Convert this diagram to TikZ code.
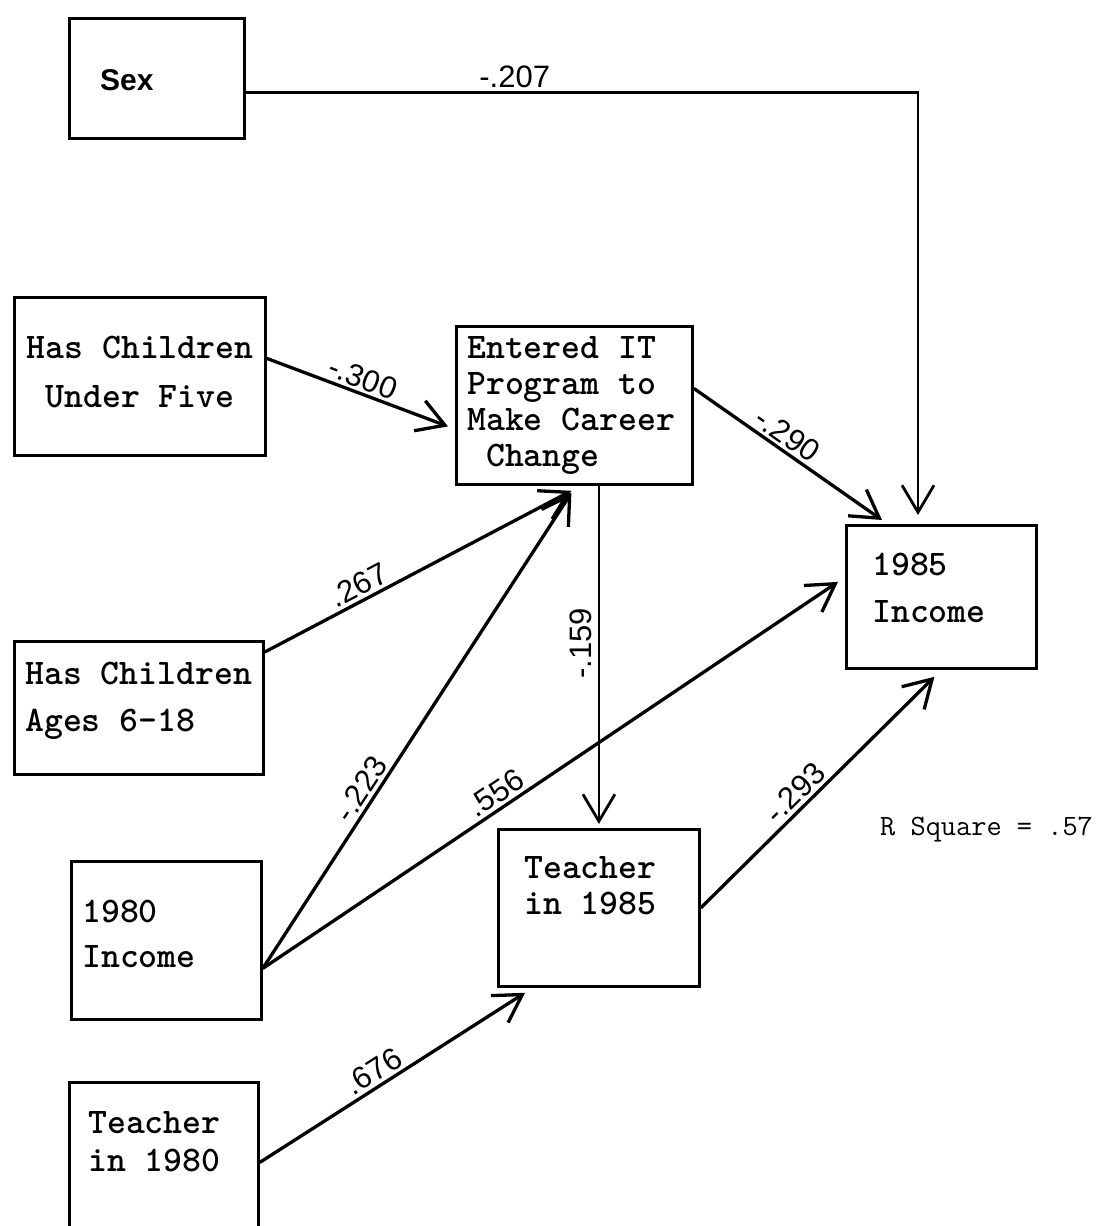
\documentclass[tikz,border=0pt]{standalone}
\usepackage{fontspec}
\newfontfamily\labfont{Liberation Sans}
\usetikzlibrary{arrows.meta}
\begin{document}
\begin{tikzpicture}[x=1pt,y=-1pt,
  box/.style={draw, line width=2.8pt, inner sep=0pt, anchor=north west},
  txt/.style={font=\ttfamily\bfseries\fontsize{36}{#1}\selectfont, align=left, inner sep=0pt, anchor=west},
  lab/.style={font=\labfont\fontsize{31}{31}\selectfont, inner sep=3pt, sloped, above},
  arr/.style={line width=3.3pt, -{Straight Barb[length=27pt,width=32pt]}}]
\useasboundingbox (0,0) rectangle (1101,1226);
\fill[white] (0,0) rectangle (1101,1226);
\clip (0,0) rectangle (1101,1226);

% boxes
\node[box, minimum width=175pt, minimum height=120pt] (sex) at (68,17) {};
\node[box, minimum width=251pt, minimum height=158pt] (under) at (13,296) {};
\node[box, minimum width=236pt, minimum height=158pt] (entered) at (455,325) {};
\node[box, minimum width=190pt, minimum height=143pt] (inc85) at (845,524) {};
\node[box, minimum width=249pt, minimum height=133pt] (ages) at (13,640) {};
\node[box, minimum width=190pt, minimum height=158pt] (inc80) at (70,860) {};
\node[box, minimum width=201pt, minimum height=157pt] (t85) at (497,828) {};
\node[box, minimum width=189pt, minimum height=160pt] (t80) at (68,1081) {};

% texts
\node[font=\labfont\bfseries\fontsize{30}{30}\selectfont, anchor=west, inner sep=0pt] (sext) at (100,80) {Sex};
\node[txt=49, align=center, anchor=center] (undert) at (140,372) {Has Children\\Under Five};
\node[txt=36] (entt) at (467,406) {Entered IT\\Program to\\Make Career\\\ Change};
\node[txt=47] (inc85t) at (872,588) {1985\\Income};
\node[txt=47] (agest) at (25,701) {Has Children\\Ages 6-18};
\node[txt=45] (inc80t) at (82,934) {1980\\Income};
\node[txt=36] (t85t) at (524,886) {Teacher\\in 1985};
\node[txt=38] (t80t) at (88,1142) {Teacher\\in 1980};
\node[font=\ttfamily\fontsize{29.5}{29.5}\selectfont, anchor=west, inner sep=0pt] (rsq) at (880,830) {R Square = .57};

% connectors
\draw[arr, line width=2.8pt] ([yshift=-14pt]sex.east) -| node[lab, pos=0.2] {-.207} ([xshift=73pt,yshift=9pt]inc85.north west);
\draw[arr] ([yshift=18pt]under.east) -- node[lab, pos=0.5] {-.300} ([xshift=-7pt,yshift=-21pt]entered.west);
\draw[arr] ([yshift=17pt]entered.east) -- node[lab, pos=0.45] {-.290} ([xshift=37pt,yshift=4pt]inc85.north west);
\draw[arr] ([yshift=-12pt]ages.north east) -- node[lab, pos=0.33] {.267} ([xshift=-3pt,yshift=-5pt]entered.south);
\draw[arr] ([yshift=-28pt]inc80.east) -- node[lab, pos=0.36] {-.223} ([xshift=-3pt,yshift=-7pt]entered.south);
\draw[arr] ([yshift=-28pt]inc80.east) -- node[lab, pos=0.42] {.556} ([xshift=-7pt,yshift=15pt]inc85.west);
\draw[arr, line width=2.8pt, shorten >=4pt] (entered.south -| t85.north) -- node[font=\labfont\fontsize{31}{31}\selectfont, inner sep=6pt, pos=0.46, rotate=90, anchor=south] {-.159} (t85.north);
\draw[arr] (t85.east) -- node[lab, pos=0.45] {-.293} ([xshift=-7pt,yshift=-7pt]inc85.south);
\draw[arr] (t80.east) -- node[lab, pos=0.46] {.676} ([xshift=28pt,yshift=-5pt]t85.south west);
\end{tikzpicture}
\end{document}
